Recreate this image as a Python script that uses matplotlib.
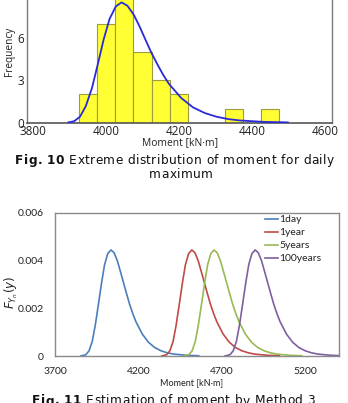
import matplotlib
matplotlib.use('Agg')
import matplotlib.pyplot as plt

# ---------------- data: Fig. 10 (histogram of daily maxima) ----------------
bin_centers = [3950, 4000, 4050, 4100, 4150, 4200, 4350, 4450]
counts = [2, 7, 9, 5, 3, 2, 1, 1]
bin_width = 50
fit_x = [3897, 3913, 3929, 3945, 3962, 3978, 3994, 4010, 4027, 4043, 4059, 4076, 4092,
         4108, 4124, 4141, 4157, 4173, 4206, 4238, 4271, 4303, 4336, 4368, 4433, 4498]
fit_y = [0.017, 0.105, 0.42, 1.17, 2.46, 4.15, 5.89, 7.33, 8.21, 8.5, 8.26, 7.64, 6.81,
         5.88, 4.97, 4.12, 3.37, 2.73, 1.75, 1.09, 0.68, 0.42, 0.25, 0.155, 0.057, 0.021]
top_xticks = [3800, 4000, 4200, 4400, 4600]
top_yticks = [0, 3, 6, 9]

# ---------------- data: Fig. 11 (estimated extreme distributions) ----------------
series_names = ['1day', '1year', '5years', '100years']
x_1day = [3855, 3885, 3904, 3923, 3941, 3960, 3979, 3997, 4016, 4035, 4054, 4073, 4091,
          4110, 4129, 4147, 4166, 4185, 4223, 4260, 4297, 4335, 4373, 4410, 4485, 4560]
x_1year = [4339, 4369, 4388, 4407, 4425, 4444, 4463, 4481, 4500, 4519, 4538, 4557, 4575,
           4594, 4613, 4631, 4650, 4669, 4707, 4744, 4781, 4819, 4857, 4894, 4969, 5044]
x_5years = [4472, 4502, 4521, 4540, 4558, 4577, 4596, 4614, 4633, 4652, 4671, 4690, 4708,
            4727, 4746, 4764, 4783, 4802, 4840, 4877, 4914, 4952, 4990, 5027, 5102, 5177]
x_100years = [4718, 4748, 4767, 4786, 4804, 4823, 4842, 4860, 4879, 4898, 4917, 4936, 4954,
              4973, 4992, 5010, 5029, 5048, 5086, 5123, 5160, 5198, 5236, 5273, 5348, 5423]
y_1day = [0.000002, 0.000055, 0.00022, 0.000614, 0.00129, 0.00217, 0.00308, 0.00384, 0.0043,
          0.00445, 0.00433, 0.0040, 0.00356, 0.00308, 0.0026, 0.00216, 0.00177, 0.00143,
          0.000914, 0.000573, 0.000354, 0.000218, 0.000133, 0.000081, 0.00003, 0.000011]
y_1year = list(y_1day)
y_5years = list(y_1day)
y_100years = list(y_1day)
bot_xticks = [3700, 4200, 4700, 5200]
bot_yticks = [0, 0.002, 0.004, 0.006]
bot_yticklabels = ['0', '0.002', '0.004', '0.006']
series_colors = ['#4a7ebb', '#be4b48', '#98b954', '#7d60a0']

caption10_bold = 'Fig. 10'
caption10_line1 = ' Extreme distribution of moment for daily'
caption10_line2 = 'maximum'
caption11_bold = 'Fig. 11'
caption11_line = ' Estimation of moment by Method 3'

W, H = 348, 403
fig = plt.figure(figsize=(W / 100, H / 100), dpi=100)


def rect(l, t, r, b):
    return [l / W, 1 - b / H, (r - l) / W, (b - t) / H]


def fy(y):
    return 1 - y / H


def fx(x):
    return x / W


# ---------------- top chart ----------------
ax1 = fig.add_axes(rect(27, -4.7, 332, 122.7))
ax1.bar(bin_centers, counts, width=bin_width, color='#ffff33', edgecolor='#9c9c40',
        linewidth=0.8, zorder=2)
ax1.plot(fit_x, fit_y, color='#2a2ad8', lw=1.3, zorder=3)
ax1.set_xlim(3784, 4619)
ax1.set_ylim(0, 9)
ax1.set_xticks(top_xticks)
ax1.set_yticks(top_yticks)
ax1.tick_params(length=0, labelsize=8.5, pad=2, labelcolor='#222222')
for lab in ax1.get_xticklabels() + ax1.get_yticklabels():
    lab.set_family('Open Sans')
for s in ['left', 'right', 'top']:
    ax1.spines[s].set_color('#7a7a7a')
    ax1.spines[s].set_linewidth(1.0)
ax1.spines['bottom'].set_color('#555555')
ax1.spines['bottom'].set_linewidth(1.2)
fig.text(fx(10), fy(51), 'Frequency', rotation=90, ha='center', va='center',
         fontsize=7.3, family='Open Sans', color='#222222')
fig.text(fx(180), fy(142.5), 'Moment [kN\u00b7m]', ha='center', va='center',
         fontsize=7.4, family='Open Sans', color='#222222')

# ---------------- bottom chart ----------------
ax2 = fig.add_axes(rect(55, 213, 339, 356))
all_x = [x_1day, x_1year, x_5years, x_100years]
all_y = [y_1day, y_1year, y_5years, y_100years]
for xs, ys, c, n in zip(all_x, all_y, series_colors, series_names):
    ax2.plot(xs, ys, color=c, lw=1.2, label=n)
ax2.set_xlim(3700, 5400)
ax2.set_ylim(0, 0.006)
ax2.set_xticks(bot_xticks)
ax2.set_yticks(bot_yticks)
ax2.set_yticklabels(bot_yticklabels)
ax2.tick_params(length=0, labelsize=7.5, pad=8, labelcolor='#222222')
for lab in ax2.get_xticklabels() + ax2.get_yticklabels():
    lab.set_family('Lato')
for s in ax2.spines.values():
    s.set_color('#8a8a8a')
    s.set_linewidth(1.0)
leg = ax2.legend(loc='upper left', bbox_to_anchor=(fx(263), fy(213)),
                 bbox_transform=fig.transFigure, frameon=False,
                 prop={'family': 'Lato', 'size': 7.5}, handlelength=1.2,
                 handletextpad=0.2, labelspacing=0.35, borderaxespad=0, borderpad=0.2)
for t in leg.get_texts():
    t.set_color('#222222')
fig.text(fx(11), fy(292), r'$F_{Y_n}(y)$', rotation=90, ha='center', va='center',
         fontsize=8.5, color='#222222')
fig.text(fx(192), fy(383), 'Moment [kN\u00b7m]', ha='center', va='center',
         fontsize=6.5, family='Lato', color='#222222')

# ---------------- captions (letter-spaced, like the journal typesetting) ----------------
fig.canvas.draw()
renderer = fig.canvas.get_renderer()
FS = 8.7


def text_width(s, weight):
    if not s:
        return 0.0
    t = fig.text(0, 0, s + '|', fontsize=FS, family='DejaVu Sans', fontweight=weight)
    r = fig.text(0, 0, '|', fontsize=FS, family='DejaVu Sans', fontweight=weight)
    w = t.get_window_extent(renderer).width - r.get_window_extent(renderer).width
    t.remove()
    r.remove()
    return w


def tracked(segments, x0, ybase, total_width=None, tracking=None):
    chars = []
    offsets = []
    base = 0.0
    for s, wgt in segments:
        for i, ch in enumerate(s):
            chars.append((ch, wgt))
            offsets.append(base + text_width(s[:i], wgt))
        base += text_width(s, wgt)
    natural = base
    n = len(chars)
    if tracking is None:
        tracking = (total_width - natural) / (n - 1)
    for k, (ch, wgt) in enumerate(chars):
        if ch == ' ':
            continue
        fig.text(fx(x0 + offsets[k] + k * tracking), fy(ybase), ch, fontsize=FS,
                 family='DejaVu Sans', fontweight=wgt, va='baseline', ha='left',
                 color='#111111')
    return tracking


trk = tracked([(caption10_bold, 'bold'), (caption10_line1, 'normal')], 15, 164,
              total_width=319)
w2 = text_width(caption10_line2, 'normal') + (len(caption10_line2) - 1) * trk
tracked([(caption10_line2, 'normal')], 181 - w2 / 2, 177.5, tracking=trk)
tracked([(caption11_bold, 'bold'), (caption11_line, 'normal')], 32, 404.5, total_width=283)

fig.savefig('out.png', dpi=100)
